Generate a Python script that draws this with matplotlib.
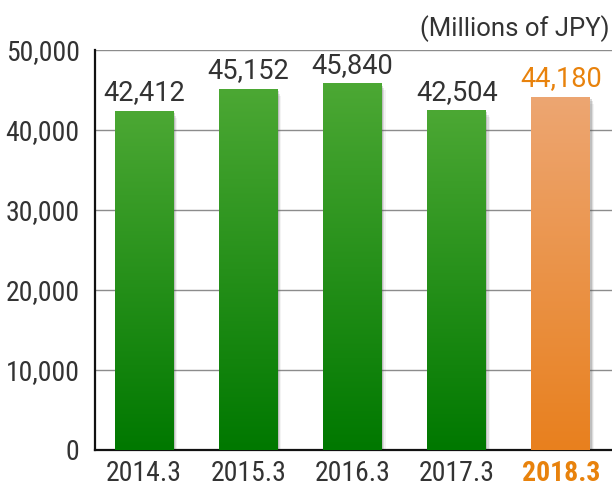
import numpy as np
import matplotlib
matplotlib.use("Agg")
import matplotlib.pyplot as plt
from matplotlib import font_manager as fm
from matplotlib.colors import LinearSegmentedColormap
from matplotlib.patches import Rectangle
from matplotlib.ticker import FuncFormatter

# Net sales by fiscal year (millions of JPY)
periods = ["2014.3", "2015.3", "2016.3", "2017.3", "2018.3"]
sales = [42412, 45152, 45840, 42504, 44180]
yticks = [0, 10000, 20000, 30000, 40000, 50000]

GREEN_TOP, GREEN_BOTTOM = "#4ca834", "#007800"
ORANGE_TOP, ORANGE_BOTTOM = "#eda672", "#e8801e"
HIGHLIGHT_TEXT = "#e8820c"
TEXT = "#333333"

# pick a narrow face for the axis labels if one is installed
entries = fm.fontManager.ttflist
names = {f.name for f in entries}
narrow_face = None
for cand in ["Liberation Sans Narrow", "Roboto Condensed", "Open Sans Condensed",
             "Noto Sans Condensed", "DejaVu Sans Condensed", "Noto Sans SemiCondensed"]:
    if cand in names:
        narrow_face = dict(family=[cand, "DejaVu Sans"], stretch="normal")
        break
if narrow_face is None:
    cond = [f for f in entries if f.stretch in ("condensed", "semi-condensed",
                                                "extra-condensed", "ultra-condensed")
            or (isinstance(f.stretch, int) and f.stretch < 100)]
    if cond:
        narrow_face = dict(family=[cond[0].name, "DejaVu Sans"], stretch=cond[0].stretch)
if narrow_face is None:
    narrow_face = dict(family=["Roboto", "DejaVu Sans"], stretch="normal")

plain = ["Roboto", "DejaVu Sans"]

fig = plt.figure(figsize=(6.12, 4.87), dpi=100)
ax = fig.add_axes([95 / 612, 37 / 487, 517 / 612, 400 / 487])

x = np.arange(len(periods))
width = 0.565
bars = ax.bar(x, sales, width=width, color="none", zorder=3)

# soft drop shadow on the right side of each bar, then a vertical gradient fill
for i, (rect, val) in enumerate(zip(bars, sales)):
    x0 = rect.get_x()
    w = rect.get_width()
    for k, a in enumerate([0.22, 0.14, 0.07]):
        off = 0.012 + k * 0.012
        ax.add_patch(Rectangle((x0 + off, 0), w, val - 300 * (k + 1),
                               facecolor="#555555", edgecolor="none",
                               alpha=a, zorder=2))
    last = i == len(sales) - 1
    top, bottom = (ORANGE_TOP, ORANGE_BOTTOM) if last else (GREEN_TOP, GREEN_BOTTOM)
    cmap = LinearSegmentedColormap.from_list("grad", [bottom, top])
    grad = np.linspace(0, 1, 256).reshape(-1, 1)
    im = ax.imshow(grad, cmap=cmap, aspect="auto", origin="lower",
                   extent=(x0, x0 + w, 0, val), zorder=3)
    im.set_clip_path(rect)
    ax.annotate(f"{val:,}", (x[i], val), xytext=(0, 7.5), textcoords="offset points",
                ha="center", va="baseline", fontsize=19.5, family=plain,
                color=HIGHLIGHT_TEXT if last else TEXT, zorder=5)

ax.set_aspect("auto")
ax.set_xlim(-0.47, 4.49)
ax.set_ylim(0, 50000)

ax.set_yticks(yticks)
ax.yaxis.set_major_formatter(FuncFormatter(lambda v, p: f"{int(v):,}"))
ax.set_xticks(x)
ax.set_xticklabels(periods)
ax.tick_params(axis="both", length=0, colors=TEXT, labelsize=20)
ax.tick_params(axis="y", pad=11)
ax.tick_params(axis="x", pad=7)
for lab in ax.get_yticklabels() + ax.get_xticklabels():
    lab.set_family(narrow_face["family"])
    lab.set_stretch(narrow_face["stretch"])
xl = ax.get_xticklabels()
xl[-1].set_color(HIGHLIGHT_TEXT)
xl[-1].set_fontweight("bold")

ax.grid(axis="y", color="#8c8c8c", linewidth=1.0, zorder=1)
ax.set_axisbelow(True)
for s in ["top", "right"]:
    ax.spines[s].set_visible(False)
for s in ["left", "bottom"]:
    ax.spines[s].set_linewidth(1.6)
    ax.spines[s].set_color("#111111")

fig.text(609 / 612, 1 - 36 / 487, "(Millions of JPY)", ha="right", va="baseline",
         fontsize=18.5, family=plain, color=TEXT)

fig.savefig("out.png", dpi=100)
